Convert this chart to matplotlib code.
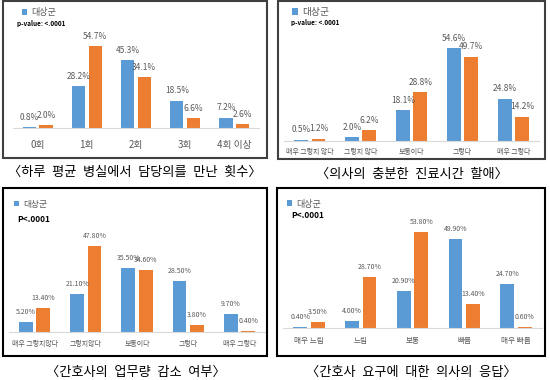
import matplotlib
matplotlib.use("Agg")
import matplotlib.pyplot as plt
from matplotlib.patches import Rectangle

plt.rcParams['font.family'] = ['Noto Sans CJK KR', 'DejaVu Sans']

BLUE = '#5B9BD5'
ORANGE = '#ED7D31'
GRAY = '#595959'

# data
cats1 = ['0회', '1회', '2회', '3회', '4회 이상']
blue1 = [0.8, 28.2, 45.3, 18.5, 7.2]
orange1 = [2.0, 54.7, 34.1, 6.6, 2.6]
labels_b1 = ['0.8%', '28.2%', '45.3%', '18.5%', '7.2%']
labels_o1 = ['2.0%', '54.7%', '34.1%', '6.6%', '2.6%']

cats2 = ['매우 그렇지 않다', '그렇지 않다', '보통이다', '그렇다', '매우 그렇다']
blue2 = [0.5, 2.0, 18.1, 54.6, 24.8]
orange2 = [1.2, 6.2, 28.8, 49.7, 14.2]
labels_b2 = ['0.5%', '2.0%', '18.1%', '54.6%', '24.8%']
labels_o2 = ['1.2%', '6.2%', '28.8%', '49.7%', '14.2%']

cats3 = ['매우 그렇지않다', '그렇지않다', '보통이다', '그렇다', '매우 그렇다']
blue3 = [5.2, 21.1, 35.5, 28.5, 9.7]
orange3 = [13.4, 47.8, 34.6, 3.8, 0.4]
labels_b3 = ['5.20%', '21.10%', '35.50%', '28.50%', '9.70%']
labels_o3 = ['13.40%', '47.80%', '34.60%', '3.80%', '0.40%']

cats4 = ['매우 느림', '느림', '보통', '빠름', '매우 빠름']
blue4 = [0.4, 4.0, 20.9, 49.9, 24.7]
orange4 = [3.5, 28.7, 53.8, 13.4, 0.6]
labels_b4 = ['0.40%', '4.00%', '20.90%', '49.90%', '24.70%']
labels_o4 = ['3.50%', '28.70%', '53.80%', '13.40%', '0.60%']

captions = ['〈하루 평균 병실에서 담당의를 만난 횟수〉',
            '〈의사의 충분한 진료시간 할애〉',
            '〈간호사의 업무량 감소 여부〉',
            '〈간호사 요구에 대한 의사의 응답〉']
ptexts = ['p-value: <.0001', 'p-value: <.0001', 'P<.0001', 'P<.0001']

W, H = 550, 380
fig = plt.figure(figsize=(5.5, 3.8), dpi=100)


def fx(px):
    return px / W


def fy(py):
    return 1 - py / H


def panel(x0, x1, base, scale, ymax, cats, blue, orange, lb, lo,
          tick_fs, tick_pad, val_fs, leg_xy, leg_fs, ptxt, p_xy, p_fs, p_w):
    hpx = ymax * scale
    ax = fig.add_axes([fx(x0), fy(base), (x1 - x0) / W, hpx / H])
    x = range(len(cats))
    off, w = 0.17, 0.27
    bb = ax.bar([i - off for i in x], blue, w, color=BLUE, label='대상군')
    bo = ax.bar([i + off for i in x], orange, w, color=ORANGE)
    for rect, t in zip(list(bb) + list(bo), lb + lo):
        ax.annotate(t, (rect.get_x() + rect.get_width() / 2, rect.get_height()),
                    xytext=(0, 10), textcoords='offset pixels', ha='center',
                    va='center', fontsize=val_fs, color=GRAY, annotation_clip=False)
    ax.set_xlim(-0.5, len(cats) - 0.5)
    ax.set_ylim(0, ymax)
    ax.set_yticks([])
    ax.set_xticks(list(x))
    ax.set_xticklabels(cats, fontsize=tick_fs, color=GRAY)
    ax.tick_params(axis='x', length=0, pad=tick_pad)
    for s in ['top', 'left', 'right']:
        ax.spines[s].set_visible(False)
    ax.spines['bottom'].set_color('#D9D9D9')
    ax.spines['bottom'].set_linewidth(0.8)
    ax.patch.set_alpha(0)
    leg = ax.legend(handles=[bb], labels=['대상군'], loc='center left',
                    bbox_to_anchor=(fx(leg_xy[0]), fy(leg_xy[1])),
                    bbox_transform=fig.transFigure, frameon=False,
                    fontsize=leg_fs, handlelength=0.6, handleheight=0.6,
                    handletextpad=0.4, borderpad=0, borderaxespad=0)
    for t in leg.get_texts():
        t.set_color(GRAY)
    fig.text(fx(p_xy[0]), fy(p_xy[1]), ptxt, fontsize=p_fs, fontweight=p_w,
             ha='left', va='center', color='black')
    return ax


panel(13, 259, 128.3, 1.5, 60, cats1, blue1, orange1, labels_b1, labels_o1,
      7, 8.5, 6, (22, 13), 6.5, ptexts[0], (17, 23.5), 4.6, 'bold')
panel(284.3, 539, 140.7, 1.69, 60, cats2, blue2, orange2, labels_b2, labels_o2,
      5, 5.4, 6, (292, 12), 7, ptexts[1], (291, 23), 4.6, 'bold')
panel(9, 265, 331.7, 1.785, 55, cats3, blue3, orange3, labels_b3, labels_o3,
      5, 6, 5, (14, 204), 6.3, ptexts[2], (17, 219), 6, 'bold')
panel(283, 542, 327.7, 1.77, 60, cats4, blue4, orange4, labels_b4, labels_o4,
      5.5, 7, 5, (287, 204), 6.5, ptexts[3], (291, 216), 6, 'bold')

# boxes around each chart
boxes = [(3, 1, 267, 158, '#404040'), (278, 1, 545, 159, '#404040'),
         (3, 188, 267, 356, 'black'), (277, 188, 545, 356, 'black')]
for x0, y0, x1, y1, c in boxes:
    fig.add_artist(Rectangle((fx(x0), fy(y1)), (x1 - x0) / W, (y1 - y0) / H,
                             transform=fig.transFigure, fill=False,
                             edgecolor=c, linewidth=1.5))

cap_pos = [(135, 172), (411.5, 174), (136, 372.5), (411, 372)]
for (cx, cy), cap in zip(cap_pos, captions):
    fig.text(fx(cx), fy(cy), cap.replace(' ', '\u2002'), fontsize=9.5,
             ha='center', va='center', color='black')

fig.savefig('out.png', dpi=100)
